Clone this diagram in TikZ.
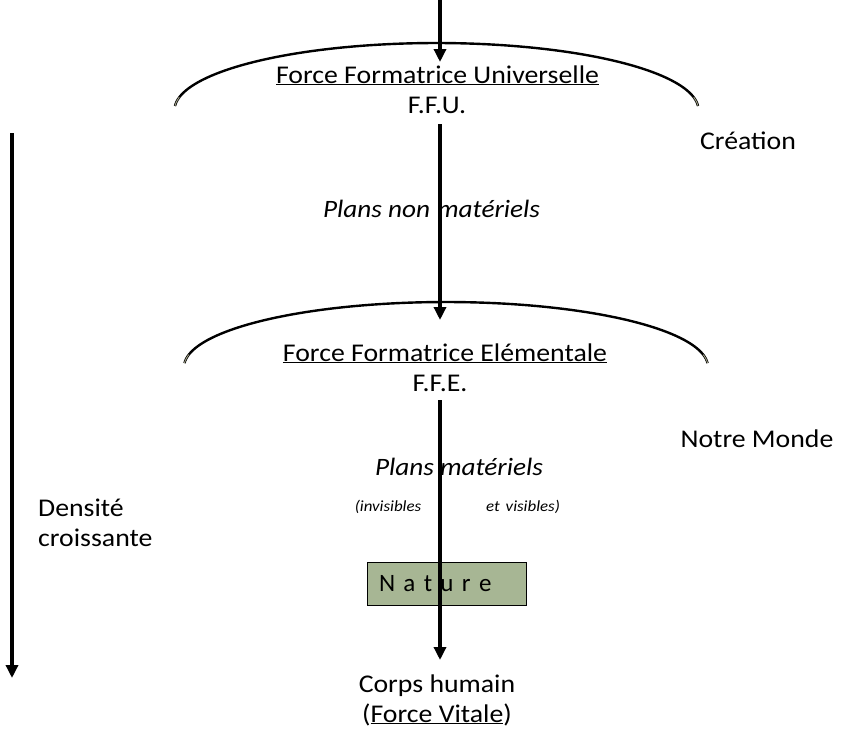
\documentclass[tikz,border=0pt]{standalone}
\usepackage{fontspec}
\setmainfont{Carlito}[FakeStretch=1.09]
\newfontfamily\naturefont{Carlito}
\usetikzlibrary{arrows.meta}
\definecolor{naturefill}{RGB}{167,182,148}
\definecolor{bracketin}{RGB}{160,160,135}
\begin{document}
\begin{tikzpicture}[x=1pt,y=-1pt,
  flow/.style={line width=4pt,-{Triangle[width=12pt,length=13pt]}},
  bracketline/.style={line width=2.4pt,black},
  bracketend/.style={line width=0.9pt,bracketin},
  lbl/.style={inner sep=0pt,font=\fontsize{25.5}{30}\selectfont},
  ilbl/.style={inner sep=0pt,font=\fontsize{25}{29}\selectfont\itshape},
  slbl/.style={inner sep=0pt,font=\fontsize{15.5}{18}\selectfont\itshape},
  naturebox/.style={draw=black,line width=1pt,fill=naturefill,minimum height=43pt,
    inner xsep=12pt,inner ysep=0pt,text width=135pt,align=left,
    font=\naturefont\fontsize{25}{30}\selectfont}
]
\useasboundingbox (0,0) rectangle (849,748);

% brackets
\draw[bracketline] plot[domain=3.4:176.6,samples=90] ({436.5+262*cos(\x)},{110-67*sin(\x)});
\draw[bracketend] plot[domain=3.6:11,samples=20] ({436.5+262*cos(\x)},{110-67*sin(\x)});
\draw[bracketend] plot[domain=169:176.4,samples=20] ({436.5+262*cos(\x)},{110-67*sin(\x)});
\draw[bracketline] plot[domain=3.4:176.6,samples=90] ({446+262*cos(\x)},{367-65*sin(\x)});
\draw[bracketend] plot[domain=3.6:11,samples=20] ({446+262*cos(\x)},{367-65*sin(\x)});
\draw[bracketend] plot[domain=169:176.4,samples=20] ({446+262*cos(\x)},{367-65*sin(\x)});

% texts
\node[lbl,anchor=base] (ffu) at (437.5,83) {\underline{Force Formatrice Universelle}};
\node[lbl,anchor=base] (ffuab) at (437,113) {F.F.U.};
\node[lbl,anchor=base] (ffe) at (445,361) {\underline{Force Formatrice Elémentale}};
\node[lbl,anchor=base] (ffeab) at (440,391) {F.F.E.};
\node[ilbl,anchor=base] (pnm) at (431.5,217) {Plans non\hspace{7pt}matériels};
\node[ilbl,anchor=base] (pm) at (459,475) {Plans\hspace{6pt}matériels};
\node[slbl,anchor=base] (inv) at (388,511) {(invisibles};
\node[slbl,anchor=base] (vis) at (523,511) {et\hspace{6pt}visibles)};
\node[lbl,anchor=base] (crea) at (748,149) {Création};
\node[lbl,anchor=base] (monde) at (757,447) {Notre Monde};
\node[lbl,anchor=base west] (dens) at (38,516) {Densité};
\node[lbl,anchor=base west] (crois) at (38,546) {croissante};
\node[lbl,anchor=base] (corps) at (437,692) {Corps humain};
\node[lbl,anchor=base] (vitale) at (437,722) {(\underline{Force Vitale})};
\node[naturebox] (nature) at (446.5,583.5) {N a t u r e};

% connector points
\coordinate (top) at (440,0);
\coordinate (tip1) at (440,62);
\coordinate (s2) at (440,124);
\coordinate (tip2) at (440,320);
\coordinate (s3) at (440,400);
\coordinate (tip3) at (440,660);
\coordinate (ltop) at (12,133);
\coordinate (lbot) at (12,678);

\draw[flow] (top) -- (tip1);
\draw[flow] (s2) -- (tip2);
\draw[flow] (s3) -- (tip3);
\draw[flow] (ltop) -- (lbot);
\end{tikzpicture}
\end{document}
